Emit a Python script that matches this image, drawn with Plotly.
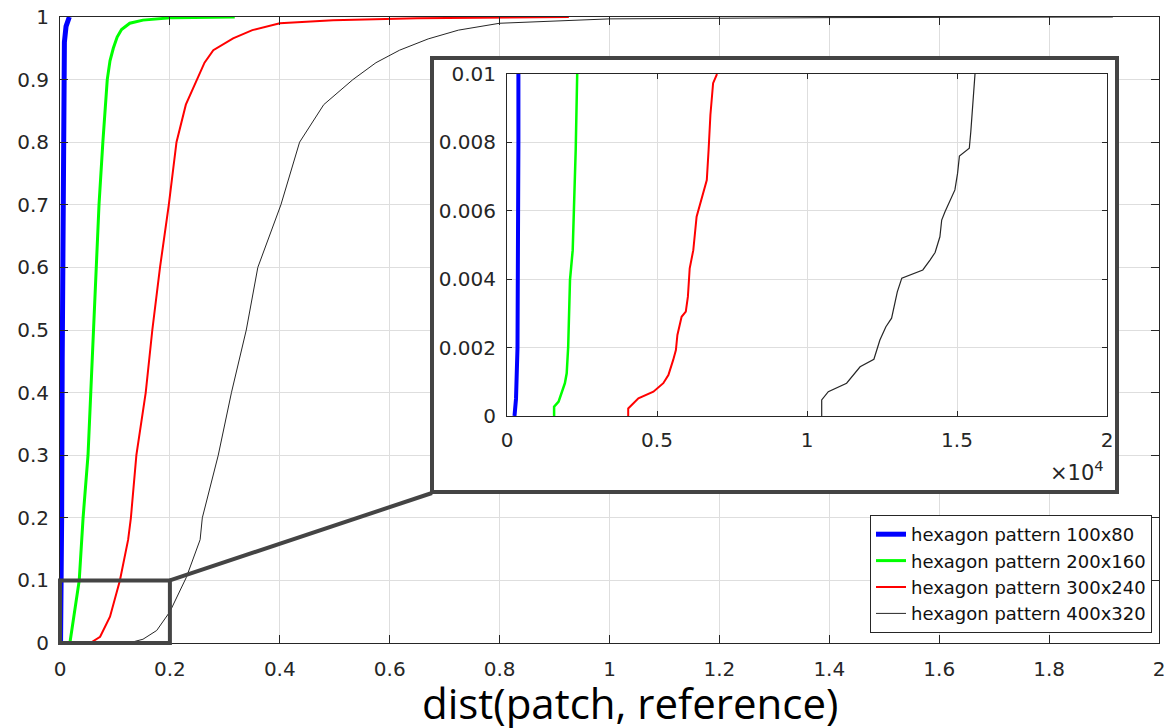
import plotly.graph_objects as go

# ---------------- data: main CDF curves ----------------
blue_x = [0.001, 0.002, 0.003, 0.004, 0.005, 0.006, 0.008, 0.011, 0.014, 0.017]
blue_y = [0.0, 0.05, 0.2, 0.45, 0.7, 0.9, 0.96, 0.985, 0.995, 1.0]

green_x = [0.018, 0.025, 0.035, 0.042, 0.051, 0.056, 0.061, 0.065, 0.071, 0.078,
           0.086, 0.091, 0.097, 0.104, 0.112, 0.127, 0.151, 0.206, 0.318]
green_y = [0.0, 0.04, 0.1, 0.2, 0.3, 0.4, 0.5, 0.6, 0.7, 0.8,
           0.9, 0.93, 0.95, 0.968, 0.98, 0.99, 0.995, 0.999, 1.0]

red_x = [0.055, 0.073, 0.091, 0.109, 0.124, 0.129, 0.139, 0.156, 0.168, 0.182,
         0.198, 0.212, 0.229, 0.249, 0.263, 0.279, 0.315, 0.35, 0.4, 0.497, 0.65, 0.926]
red_y = [0.0, 0.01, 0.042, 0.1, 0.165, 0.2, 0.3, 0.4, 0.5, 0.6,
         0.7, 0.8, 0.86, 0.9, 0.927, 0.947, 0.966, 0.979, 0.99, 0.995, 0.998, 1.0]

black_x = [0.125, 0.151, 0.176, 0.2, 0.23, 0.255, 0.259, 0.288, 0.312, 0.339,
           0.36, 0.402, 0.436, 0.48, 0.533, 0.575, 0.618, 0.67, 0.725, 0.8, 1.0, 1.4, 1.916]
black_y = [0.0, 0.006, 0.02, 0.05, 0.105, 0.165, 0.2, 0.3, 0.4, 0.5,
           0.6, 0.7, 0.8, 0.86, 0.9, 0.927, 0.947, 0.965, 0.979, 0.99, 0.997, 0.999, 1.0]

# ---------------- data: inset (zoom) curves ----------------
in_blue_x = [0.025, 0.03, 0.035, 0.037, 0.038, 0.038]
in_blue_y = [0.0, 0.0005, 0.002, 0.004, 0.008, 0.01]

in_green_x = [0.157, 0.157, 0.172, 0.193, 0.199, 0.204, 0.21, 0.219, 0.223, 0.229, 0.234]
in_green_y = [0.0, 0.00027, 0.00042, 0.00096, 0.00125, 0.00203, 0.00398, 0.00485,
              0.00602, 0.00778, 0.01]

in_red_x = [0.404, 0.404, 0.438, 0.488, 0.521, 0.538, 0.554, 0.563, 0.568, 0.577,
            0.582, 0.596, 0.603, 0.609, 0.616, 0.621, 0.632, 0.666, 0.672, 0.678,
            0.687, 0.7]
in_red_y = [0.0, 0.00022, 0.00052, 0.00071, 0.00096, 0.0012, 0.00164, 0.00193,
            0.00237, 0.00271, 0.0029, 0.00305, 0.00349, 0.00432, 0.00466, 0.00485,
            0.00583, 0.0069, 0.00778, 0.0088, 0.00973, 0.01]

in_black_x = [1.049, 1.049, 1.071, 1.132, 1.177, 1.223, 1.243, 1.263, 1.282, 1.293,
              1.301, 1.316, 1.386, 1.41, 1.427, 1.443, 1.449, 1.46, 1.493, 1.502,
              1.508, 1.541, 1.546, 1.56]
in_black_y = [0.0, 0.00047, 0.00071, 0.00096, 0.00144, 0.00166, 0.00222, 0.00261,
              0.00286, 0.00334, 0.00363, 0.00403, 0.00427, 0.00456, 0.00478,
              0.00524, 0.00573, 0.00597, 0.00661, 0.0071, 0.0076, 0.00783,
              0.00831, 0.01]

series_names = ["hexagon pattern 100x80", "hexagon pattern 200x160",
                "hexagon pattern 300x240", "hexagon pattern 400x320"]

main_xticks = [0, 0.2, 0.4, 0.6, 0.8, 1, 1.2, 1.4, 1.6, 1.8, 2]
main_xticktext = ["0", "0.2", "0.4", "0.6", "0.8", "1", "1.2", "1.4", "1.6", "1.8", "2"]
main_yticks = [0, 0.1, 0.2, 0.3, 0.4, 0.5, 0.6, 0.7, 0.8, 0.9, 1]
main_yticktext = ["0", "0.1", "0.2", "0.3", "0.4", "0.5", "0.6", "0.7", "0.8", "0.9", "1"]
in_xticks = [0, 0.5, 1, 1.5, 2]
in_xticktext = ["0", "0.5", "1", "1.5", "2"]
in_yticks = [0, 0.002, 0.004, 0.006, 0.008, 0.01]
in_yticktext = ["0", "0.002", "0.004", "0.006", "0.008", "0.01"]

# ---------------- figure ----------------
fig = go.Figure()
colors = ["#0000ff", "#00ff00", "#ff0000", "#262626"]
main_w = [5, 3, 2, 1]
in_w = [4, 2.5, 2, 1.2]

main_data = [(blue_x, blue_y), (green_x, green_y), (red_x, red_y), (black_x, black_y)]
in_data = [(in_blue_x, in_blue_y), (in_green_x, in_green_y), (in_red_x, in_red_y),
           (in_black_x, in_black_y)]

for (xs, ys), c, w, n in zip(main_data, colors, main_w, series_names):
    fig.add_trace(go.Scatter(x=xs, y=ys, mode="lines", name=n,
                             line=dict(color=c, width=w), xaxis="x", yaxis="y"))

# empty trace to create the white framed box subplot
fig.add_trace(go.Scatter(x=[], y=[], xaxis="x2", yaxis="y2", showlegend=False,
                         hoverinfo="skip"))

for (xs, ys), c, w, n in zip(in_data, colors, in_w, series_names):
    fig.add_trace(go.Scatter(x=xs, y=ys, mode="lines", name=n, showlegend=False,
                             line=dict(color=c, width=w), xaxis="x3", yaxis="y3"))

FONT = "DejaVu Sans, Liberation Sans, Arial, sans-serif"
tickfont = dict(family=FONT, size=20, color="#262626")
gridc = "#dedede"
axc = "#262626"

# page geometry (body margin removed by post_script)
W, H = 1169, 728
L, R, T, B = 60, 10, 17, 85
pw, ph = W - L - R, H - T - B

def px(xp):
    return (xp - L) / pw

def py(yp):
    return (H - B - yp) / ph

box_dom_x = [px(434), px(1115)]
box_dom_y = [py(490), py(60)]
in_dom_x = [px(507), px(1107)]
in_dom_y = [py(416), py(74)]

common = dict(automargin=False, zeroline=False, ticklabeloverflow="allow")

fig.update_layout(
    width=W, height=H,
    margin=dict(l=L, r=R, t=T, b=B, autoexpand=False),
    paper_bgcolor="white", plot_bgcolor="white",
    showlegend=True,
    legend=dict(x=px(1152), y=py(633), xanchor="right", yanchor="bottom",
                bgcolor="white", bordercolor="#262626", borderwidth=1,
                font=dict(family=FONT, size=18, color="#111"),
                tracegroupgap=0, itemwidth=30),
    xaxis=dict(domain=[0, 1], range=[0, 2], tickvals=main_xticks, ticktext=main_xticktext,
               showgrid=True, gridcolor=gridc, showline=True,
               linecolor=axc, linewidth=1, mirror="ticks", ticks="inside", ticklen=8,
               tickcolor=axc, tickfont=tickfont, anchor="y", ticklabelstandoff=8, **common),
    yaxis=dict(domain=[0, 1], range=[0, 1], tickvals=main_yticks, ticktext=main_yticktext,
               showgrid=True, gridcolor=gridc, showline=True,
               linecolor=axc, linewidth=1, mirror="ticks", ticks="inside", ticklen=8,
               tickcolor=axc, tickfont=tickfont, anchor="x", ticklabelstandoff=6, **common),
    xaxis2=dict(domain=box_dom_x, range=[0, 1], showgrid=False,
                showticklabels=False, ticks="", showline=True, mirror=True,
                linecolor="#444444", linewidth=4, anchor="y2", fixedrange=True, **common),
    yaxis2=dict(domain=box_dom_y, range=[0, 1], showgrid=False,
                showticklabels=False, ticks="", showline=True, mirror=True,
                linecolor="#444444", linewidth=4, anchor="x2", fixedrange=True, **common),
    xaxis3=dict(domain=in_dom_x, range=[0, 2], tickvals=in_xticks, ticktext=in_xticktext,
                showgrid=True, gridcolor=gridc, showline=True,
                linecolor=axc, linewidth=1, mirror="ticks", ticks="inside", ticklen=5,
                tickcolor=axc, tickfont=tickfont, anchor="y3", ticklabelstandoff=6, **common),
    yaxis3=dict(domain=in_dom_y, range=[0, 0.01], tickvals=in_yticks, ticktext=in_yticktext,
                showgrid=True, gridcolor=gridc, showline=True,
                linecolor=axc, linewidth=1, mirror="ticks", ticks="inside", ticklen=5,
                tickcolor=axc, tickfont=tickfont, anchor="x3", ticklabelstandoff=6, **common),
)

# zoom rectangle on the main axes and connector to the inset frame
fig.add_shape(type="rect", xref="x domain", yref="y domain", x0=0, y0=0, x1=0.1, y1=0.1,
              line=dict(color="#444444", width=4), layer="above")
fig.add_shape(type="line", xref="x domain", yref="y domain", x0=0.1, y0=0.1,
              x1=px(432), y1=py(493), line=dict(color="#444444", width=4), layer="above")

fig.add_annotation(text="\u00d710<sup>4</sup>", xref="paper", yref="paper",
                   x=px(1106), y=py(471), xanchor="right", yanchor="middle",
                   showarrow=False,
                   font=dict(family=FONT, size=21, color="#262626"))

fig.add_annotation(text="dist(patch, reference)", xref="paper", yref="paper",
                   x=px(630), y=py(702), xanchor="center", yanchor="middle",
                   showarrow=False,
                   font=dict(family="Open Sans, Lato, sans-serif", size=42, color="#000"))

fig.write_html("out.html",
               config={"displayModeBar": False},
               post_script="document.body.style.margin='0';"
                           "document.body.style.overflow='hidden';")
